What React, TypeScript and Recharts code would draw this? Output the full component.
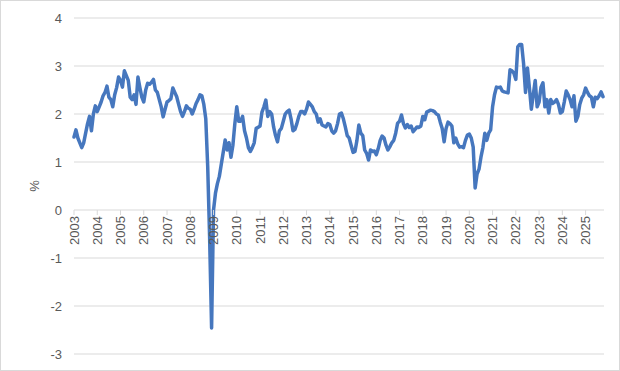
import { LineChart, Line, XAxis, YAxis, CartesianGrid } from "recharts";

const BLUE = "#4677be";
const GRID = "#d9d9d9";
const TEXT = "#595959";
const FONT = "'Liberation Sans', Arial, sans-serif";

// ── data ─────────────────────────────────────────────────────────────────────
const START_YEAR = 2003;
const YEARS = [
  2003, 2004, 2005, 2006, 2007, 2008, 2009, 2010, 2011, 2012, 2013, 2014,
  2015, 2016, 2017, 2018, 2019, 2020, 2021, 2022, 2023, 2024, 2025,
];
const Y_TICKS = [-3, -2, -1, 0, 1, 2, 3, 4];

// monthly values, Jan 2003 -> Oct 2025 (one row per year)
const VALUES = [
  1.52, 1.67, 1.5, 1.4, 1.3, 1.4, 1.6, 1.8, 1.95, 1.65, 2.0, 2.17,
  2.05, 2.15, 2.25, 2.38, 2.45, 2.58, 2.35, 2.3, 2.15, 2.4, 2.55, 2.77,
  2.7, 2.56, 2.9, 2.8, 2.7, 2.35, 2.3, 2.4, 2.2, 2.77, 2.55, 2.35,
  2.25, 2.5, 2.64, 2.62, 2.66, 2.72, 2.5, 2.45, 2.3, 2.15, 1.94, 2.1,
  2.25, 2.28, 2.32, 2.54, 2.45, 2.36, 2.2, 2.05, 1.95, 2.05, 2.17, 2.12,
  2.1, 2.0, 2.1, 2.22, 2.3, 2.4, 2.38, 2.2, 1.9, 0.9, -0.6, -2.46,
  0.0, 0.35, 0.55, 0.7, 0.95, 1.2, 1.46, 1.25, 1.4, 1.1, 1.35, 1.8,
  2.15, 1.85, 1.85, 1.95, 1.65, 1.5, 1.3, 1.22, 1.3, 1.4, 1.7, 1.72,
  1.75, 2.04, 2.15, 2.29, 1.95, 2.05, 2.0, 1.73, 1.55, 1.42, 1.65, 1.7,
  1.85, 2.0, 2.05, 2.08, 1.9, 1.65, 1.68, 1.8, 1.95, 2.05, 2.05, 2.0,
  2.1, 2.25, 2.2, 2.15, 2.05, 2.0, 1.83, 1.9, 1.77, 1.75, 1.73, 1.8,
  1.78, 1.65, 1.6, 1.65, 1.8, 2.0, 2.02, 1.9, 1.73, 1.55, 1.5, 1.35,
  1.2, 1.22, 1.45, 1.77, 1.6, 1.55, 1.25, 1.18, 1.04, 1.25, 1.22, 1.23,
  1.15, 1.28, 1.45, 1.54, 1.5, 1.35, 1.25, 1.32, 1.4, 1.45, 1.6, 1.81,
  1.85, 1.98, 1.8, 1.71, 1.78, 1.72, 1.75, 1.63, 1.68, 1.73, 1.72, 1.75,
  1.95, 1.88, 2.04, 2.06, 2.08, 2.07, 2.05, 2.0, 1.98, 1.83, 1.7, 1.42,
  1.7, 1.83, 1.8, 1.75, 1.4, 1.5, 1.38, 1.31, 1.32, 1.3, 1.45, 1.56,
  1.58, 1.5, 1.31, 0.46, 0.75, 0.85, 1.1, 1.3, 1.6, 1.45, 1.6, 1.67,
  2.15, 2.4, 2.56, 2.55, 2.56, 2.48, 2.46, 2.45, 2.44, 2.92, 2.9, 2.85,
  2.72, 3.4, 3.45, 3.45, 3.05, 2.45, 2.96, 2.55, 2.1, 2.4, 2.7, 2.15,
  2.25, 2.56, 2.65, 2.15, 2.3, 2.02, 2.3, 2.22, 2.25, 2.3, 2.2, 2.02,
  2.05, 2.25, 2.48, 2.4, 2.3, 2.15, 2.38, 1.85, 1.95, 2.2, 2.33, 2.4,
  2.54, 2.45, 2.38, 2.35, 2.15, 2.35, 2.32, 2.38, 2.46, 2.36,
];

const data = VALUES.map((v, i) => ({ t: i, v }));
const X_TICKS = YEARS.map((y) => (y - START_YEAR) * 12);

// ── layout ───────────────────────────────────────────────────────────────────
const W = 618;
const H = 369;
const MARGIN = { top: 17, right: 15, bottom: 15, left: 0 };
const X_AXIS_H = 1;
const PLOT_H = H - MARGIN.top - MARGIN.bottom - X_AXIS_H;
const Y_MIN = Y_TICKS[0];
const Y_MAX = Y_TICKS[Y_TICKS.length - 1];
// the category axis crosses the value axis at 0, not at the bottom
const ZERO_SHIFT = (PLOT_H * (0 - Y_MIN)) / (Y_MAX - Y_MIN);

function YearTick(props: any) {
  const { x, y, payload } = props;
  const y0 = y - ZERO_SHIFT;
  const ty = y0 + 6;
  return (
    <g>
      <line x1={x} x2={x} y1={y0} y2={y0 + 5} stroke={GRID} />
      <text
        x={x}
        y={ty}
        transform={`rotate(-90 ${x} ${ty})`}
        textAnchor="end"
        dominantBaseline="central"
        fontSize={13}
        fontFamily={FONT}
        fill={TEXT}
      >
        {START_YEAR + payload.value / 12}
      </text>
    </g>
  );
}

function PercentLabel(props: any) {
  const vb = props.viewBox;
  const cx = vb.x + 33;
  const cy = vb.y + vb.height / 2;
  return (
    <text
      x={cx}
      y={cy}
      transform={`rotate(-90 ${cx} ${cy})`}
      textAnchor="middle"
      dominantBaseline="central"
      fontSize={13}
      fontFamily={FONT}
      fill={TEXT}
    >
      %
    </text>
  );
}

export default function App() {
  return (
    <div
      style={{
        position: "absolute",
        left: 0,
        top: 0,
        width: 620,
        height: 371,
        boxSizing: "border-box",
        border: `1px solid ${GRID}`,
        background: "white",
      }}
    >
      <LineChart width={W} height={H} data={data} margin={MARGIN}>
        <CartesianGrid vertical={false} stroke={GRID} />
        <XAxis
          type="number"
          dataKey="t"
          domain={[0, 273.5]}
          ticks={X_TICKS}
          interval={0}
          height={X_AXIS_H}
          axisLine={false}
          tickLine={false}
          tickSize={0}
          tickMargin={0}
          tick={<YearTick />}
        />
        <YAxis
          type="number"
          domain={[Y_MIN, Y_MAX]}
          ticks={Y_TICKS}
          interval={0}
          width={73}
          axisLine={false}
          tickLine={false}
          tickSize={0}
          tickMargin={12}
          tick={{ fontSize: 13, fill: TEXT, fontFamily: FONT }}
          label={<PercentLabel />}
        />
        <Line
          type="linear"
          dataKey="v"
          stroke={BLUE}
          strokeWidth={3.5}
          strokeLinejoin="round"
          strokeLinecap="round"
          dot={false}
          isAnimationActive={false}
        />
      </LineChart>
    </div>
  );
}
